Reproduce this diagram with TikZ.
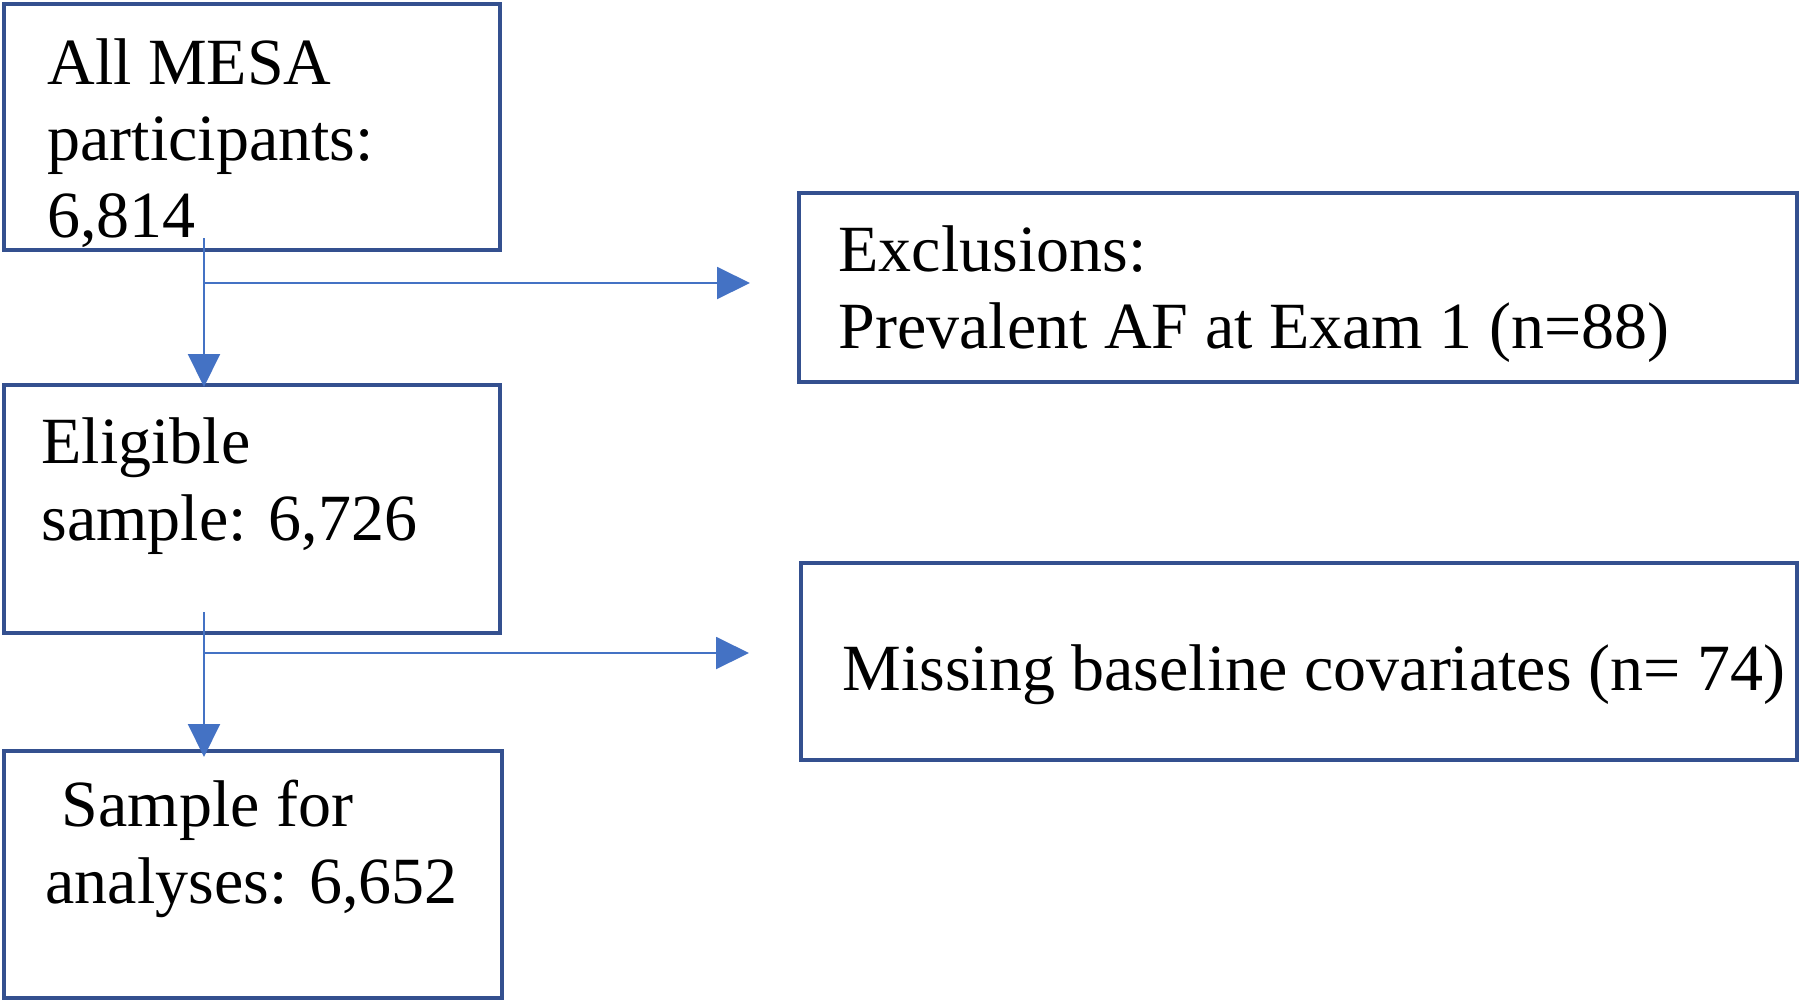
\documentclass[tikz,border=0pt]{standalone}
\usepackage{fontspec}
\setmainfont{Liberation Serif}
\usetikzlibrary{arrows.meta}
\definecolor{boxblue}{HTML}{34508F}
\definecolor{arrowblue}{HTML}{4472C4}
\begin{document}
\begin{tikzpicture}[x=0.5pt,y=-0.5pt,
  box/.style={draw=boxblue, line width=2.4pt, fill=white, rectangle, inner sep=0pt, outer sep=0pt},
  txt/.style={anchor=base west, inner sep=0pt, align=left, font=\fontsize{33}{38.25}\selectfont},
  arr/.style={draw=arrowblue, line width=1pt, -{Triangle[length=16.5pt,width=16pt]}}]
\useasboundingbox (0,0) rectangle (1800,1003);
\node[box, minimum width=248pt, minimum height=123pt] (b1) at (252,127) {};
\node[box, minimum width=248pt, minimum height=124pt] (b2) at (252,509) {};
\node[box, minimum width=249pt, minimum height=123.5pt] (b3) at (253,874.5) {};
\node[box, minimum width=499pt, minimum height=94.5pt] (ex) at (1298,287.5) {};
\node[box, minimum width=498pt, minimum height=98.5pt] (miss) at (1299,661.5) {};
% base anchor of a multi-line node = baseline of its last line
\node[txt] (t1) at (47,237) {All MESA\\participants:\\6,814};
\node[txt] (t2) at (41,540) {Eligible\\sample: 6,726};
\node[txt] (t3) at (45,903) {\hspace*{0.25em}Sample for\\analyses: 6,652};
\node[txt] (t4) at (838,348) {Exclusions:\\Prevalent AF at Exam 1 (n=88)};
\node[txt] (t5) at (842,690) {Missing baseline covariates (n= 74)};
\coordinate (j1) at ([xshift=100pt,yshift=-16.5pt]b1.south west);
\coordinate (j2) at ([xshift=100pt,yshift=-10pt]b2.south west);
\draw[arr] ([xshift=100pt,yshift=6pt]b1.south west) -- ([xshift=100pt,yshift=-1pt]b2.north west);
\draw[arr] (j1) -- ([xshift=-24.5pt]ex.west |- j1);
\draw[arr] ([xshift=100pt,yshift=10.5pt]b2.south west) -- ([xshift=100pt,yshift=-3pt]b3.north west);
\draw[arr] (j2) -- ([xshift=-26pt]miss.west |- j2);
\end{tikzpicture}
\end{document}
